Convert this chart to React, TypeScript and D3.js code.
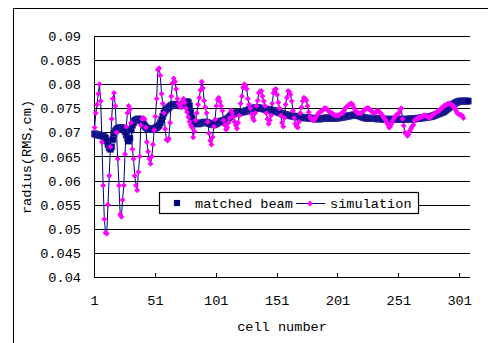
import React, { useEffect, useRef } from 'react';
import * as d3 from 'd3';

// matched beam radius per cell (RMS, cm)
const matchedBeam = [
  0.0697, 0.0696, 0.0695, 0.0695, 0.0694, 0.0694, 0.0693,
  0.0692, 0.069, 0.0688, 0.0682, 0.0675, 0.0668, 0.0665, 0.067, 0.0685,
  0.0698, 0.0703, 0.0706, 0.0708, 0.0709, 0.071, 0.071, 0.0709, 0.0707, 0.0702,
  0.0695, 0.0688, 0.0682, 0.0688,
  0.0705, 0.0715, 0.072, 0.0724, 0.0726, 0.0727, 0.0728, 0.0727, 0.0725, 0.0722, 0.0718,
  0.0714, 0.0711, 0.0709, 0.0708, 0.0707, 0.0706, 0.0706, 0.0707, 0.0708, 0.0709, 0.071, 0.0712, 0.0715,
  0.072, 0.0726, 0.0733, 0.074, 0.0745, 0.0748, 0.075, 0.0752,
  0.0754, 0.0756, 0.0757, 0.0758, 0.0758, 0.0758, 0.0757, 0.0756, 0.0755, 0.0756, 0.0758, 0.076, 0.0762,
  0.0763, 0.0764, 0.0762, 0.0755, 0.0742, 0.073, 0.0722,
  0.072, 0.0719, 0.0718, 0.0718, 0.0718, 0.0719, 0.072, 0.072, 0.0721, 0.0721, 0.0721, 0.072, 0.0719,
  0.0718, 0.0717, 0.0716, 0.0716, 0.0717, 0.0718, 0.072, 0.0721, 0.0722, 0.0723, 0.0724, 0.0724,
  0.0725, 0.0726, 0.0728, 0.073, 0.0732, 0.0735, 0.0737, 0.0739,
  0.074, 0.074, 0.0741, 0.0741, 0.0741, 0.0742, 0.0742, 0.0743, 0.0743, 0.0744, 0.0745, 0.0746,
  0.0747, 0.0748, 0.0749, 0.075, 0.075, 0.0751, 0.0751, 0.0751, 0.0751, 0.075, 0.075, 0.0749, 0.0749,
  0.0748, 0.0748, 0.0748, 0.0747, 0.0747, 0.0746, 0.0746, 0.0745, 0.0745, 0.0744, 0.0743, 0.0742,
  0.0741, 0.074, 0.0739, 0.0738, 0.0737, 0.0737, 0.0736, 0.0736, 0.0735, 0.0735, 0.0734, 0.0734, 0.0733,
  0.0733, 0.0733, 0.0732, 0.0732, 0.0732, 0.0731, 0.0731, 0.0731, 0.073, 0.073, 0.073, 0.073, 0.0729, 0.0729,
  0.0729, 0.0729, 0.0728, 0.0728, 0.0728, 0.0728, 0.0728, 0.0728, 0.0729, 0.0729, 0.0729, 0.073, 0.073,
  0.073, 0.073, 0.0729, 0.0729, 0.0729, 0.0729, 0.0729, 0.073, 0.073, 0.073, 0.0731, 0.0731, 0.0732,
  0.0732, 0.0733, 0.0733, 0.0734, 0.0734, 0.0735, 0.0735,
  0.0736, 0.0736, 0.0736, 0.0736, 0.0735, 0.0735, 0.0734, 0.0733, 0.0732, 0.0731,
  0.073, 0.073, 0.0729, 0.0729, 0.0729, 0.0729, 0.0729, 0.0729, 0.0729, 0.0729, 0.0728, 0.0728, 0.0728,
  0.0728, 0.0728, 0.0728, 0.0727, 0.0727, 0.0727, 0.0727, 0.0727, 0.0727, 0.0727, 0.0727, 0.0727, 0.0727,
  0.0727, 0.0727, 0.0727, 0.0727, 0.0727, 0.0727, 0.0727, 0.0727, 0.0727, 0.0727, 0.0727, 0.0728, 0.0728,
  0.0728, 0.0728, 0.0728, 0.0728, 0.0729, 0.0729, 0.0729, 0.073, 0.073, 0.073, 0.0731, 0.0731, 0.0731,
  0.0732, 0.0732, 0.0733, 0.0733, 0.0734,
  0.0735, 0.0736, 0.0737, 0.0738, 0.0739, 0.074, 0.0741, 0.0742, 0.0743, 0.0745, 0.0747, 0.0749, 0.0751,
  0.0753, 0.0755, 0.0757, 0.0759, 0.076, 0.0762, 0.0763, 0.0764, 0.0765, 0.0765, 0.0765, 0.0765, 0.0765,
  0.0765, 0.0765, 0.0765,
];

// simulated radius per cell
const simulation = [
  0.071, 0.074, 0.0758, 0.078, 0.08, 0.0765, 0.068, 0.059, 0.052, 0.0492,
  0.049, 0.055, 0.061, 0.067, 0.0728, 0.077, 0.0782, 0.0755, 0.07, 0.0645,
  0.059, 0.053, 0.0525, 0.056, 0.059, 0.0655, 0.0712, 0.074, 0.0755, 0.0748,
  0.072, 0.0665, 0.0645, 0.061, 0.059, 0.058, 0.0618, 0.065, 0.0715, 0.0728,
  0.073, 0.0728, 0.071, 0.068, 0.066, 0.0645, 0.0635, 0.065, 0.0675, 0.0705,
  0.0733, 0.077, 0.083, 0.0833, 0.0818, 0.078, 0.076, 0.074, 0.0707, 0.0685,
  0.0683, 0.0687, 0.072, 0.0775, 0.0802, 0.0812, 0.0805, 0.079, 0.077, 0.076,
  0.0755, 0.0752, 0.0762, 0.077, 0.0762, 0.075, 0.0742, 0.0732, 0.0722, 0.0715,
  0.071, 0.069, 0.0702, 0.0725, 0.074, 0.0758, 0.0772, 0.0788, 0.0805, 0.0792,
  0.0766, 0.0752, 0.074, 0.0722, 0.0698, 0.0683, 0.0675, 0.069, 0.0712, 0.0727,
  0.0755, 0.0768, 0.0772, 0.0764, 0.0755, 0.0745, 0.0725, 0.0715, 0.0706, 0.071,
  0.072, 0.073, 0.0745, 0.074, 0.0732, 0.0722, 0.0715, 0.0708, 0.072, 0.0735,
  0.076, 0.0775, 0.0793, 0.08, 0.0797, 0.079, 0.077, 0.0758, 0.075, 0.0738,
  0.073, 0.0725, 0.074, 0.0755, 0.0766, 0.0782, 0.0785, 0.0786, 0.0775, 0.0765,
  0.0755, 0.074, 0.0728, 0.0718, 0.0725, 0.0735, 0.076, 0.0782, 0.0788, 0.079,
  0.0778, 0.0762, 0.075, 0.0735, 0.072, 0.0712, 0.073, 0.0758, 0.0772, 0.0786,
  0.0784, 0.0778, 0.0765, 0.0745, 0.073, 0.0718, 0.0712, 0.071, 0.0722, 0.074,
  0.0752, 0.0765, 0.0772, 0.077, 0.0766, 0.0755, 0.0742, 0.0732, 0.0728, 0.0726,
  0.0725, 0.0728, 0.0732, 0.0736, 0.074, 0.0742, 0.0744, 0.0745, 0.0748, 0.075,
  0.075, 0.0748, 0.0745, 0.0743, 0.0741, 0.074, 0.0738, 0.0736, 0.0735, 0.0735,
  0.0735, 0.0736, 0.0738, 0.074, 0.074, 0.0745, 0.075, 0.0753, 0.0755, 0.0757,
  0.0759, 0.076, 0.0758, 0.0752, 0.0747, 0.0743, 0.074, 0.074, 0.074, 0.074,
  0.0742, 0.0745, 0.0747, 0.0749, 0.075, 0.075, 0.0748, 0.0745, 0.0743, 0.0741,
  0.074, 0.0742, 0.0744, 0.0745, 0.0743, 0.074, 0.0737, 0.0733, 0.073, 0.0726,
  0.0721, 0.0716, 0.071, 0.0712, 0.0718, 0.0724, 0.0729, 0.0733, 0.0736, 0.0738,
  0.074, 0.0747, 0.075, 0.0728, 0.0714, 0.07, 0.0697, 0.0693, 0.0696, 0.0703,
  0.0708, 0.0712, 0.0716, 0.0725, 0.0727, 0.0728, 0.073, 0.0731, 0.0732, 0.0733,
  0.0734, 0.0735, 0.0735, 0.0734, 0.0732, 0.073, 0.0732, 0.0735, 0.0736, 0.0738,
  0.074, 0.0742, 0.0744, 0.0745, 0.0747, 0.075, 0.0752, 0.0755, 0.0756, 0.0757,
  0.0759, 0.076, 0.0759, 0.0757, 0.0756, 0.0755, 0.075, 0.0745, 0.074, 0.0738,
  0.0737, 0.0736, 0.0735, 0.073,
];

const cellCount = 309;
const xTicks = [1, 51, 101, 151, 201, 251, 301];
const yTicks = [0.04, 0.045, 0.05, 0.055, 0.06, 0.065, 0.07, 0.075, 0.08, 0.085, 0.09];
const seriesNames = ['matched beam', 'simulation'];

const FONT = '"Liberation Mono", "DejaVu Sans Mono", monospace';

const App = () => {
  const svgRef = useRef<SVGSVGElement>(null);

  useEffect(() => {
    const svg = d3.select(svgRef.current);
    svg.selectAll('*').remove();

    const plot = { left: 94, right: 470, top: 36, bottom: 277 };

    const x = d3.scaleLinear().domain([0.5, cellCount + 0.5]).range([plot.left, plot.right]);
    const y = d3.scaleLinear().domain([0.04, 0.09]).range([plot.bottom, plot.top]);

    // outer chart frame (runs off the right/bottom edge)
    svg.append('rect')
      .attr('x', 13.5).attr('y', 8.5)
      .attr('width', 500).attr('height', 360)
      .attr('fill', '#fff').attr('stroke', '#000').attr('stroke-width', 1);

    // gridlines
    svg.append('g')
      .selectAll('line')
      .data(yTicks)
      .enter().append('line')
      .attr('x1', plot.left).attr('x2', plot.right)
      .attr('y1', d => Math.round(y(d)) + 0.5).attr('y2', d => Math.round(y(d)) + 0.5)
      .attr('stroke', '#000').attr('stroke-width', 1);

    // y axis line
    svg.append('line')
      .attr('x1', plot.left + 0.5).attr('x2', plot.left + 0.5)
      .attr('y1', plot.top).attr('y2', plot.bottom + 1)
      .attr('stroke', '#000');

    // y tick labels
    svg.append('g')
      .selectAll('text')
      .data(yTicks)
      .enter().append('text')
      .attr('x', 81)
      .attr('y', d => y(d) + 5)
      .attr('text-anchor', 'end')
      .attr('font-family', FONT)
      .attr('font-size', 13.6)
      .attr('fill', '#000')
      .text(d => String(d));

    // x tick marks (at category boundaries, pointing up) and labels
    const xg = svg.append('g');
    xg.selectAll('line')
      .data(xTicks)
      .enter().append('line')
      .attr('x1', d => Math.round(x(d - 0.5)) + 0.5).attr('x2', d => Math.round(x(d - 0.5)) + 0.5)
      .attr('y1', plot.bottom - 4).attr('y2', plot.bottom)
      .attr('stroke', '#000');
    xg.selectAll('text')
      .data(xTicks)
      .enter().append('text')
      .attr('x', d => x(d))
      .attr('y', 305)
      .attr('text-anchor', 'middle')
      .attr('font-family', FONT)
      .attr('font-size', 13.6)
      .attr('fill', '#000')
      .text(d => String(d));

    // axis titles
    svg.append('text')
      .attr('x', 282).attr('y', 331)
      .attr('text-anchor', 'middle')
      .attr('font-family', FONT)
      .attr('font-size', 13.6)
      .text('cell number');

    svg.append('text')
      .attr('transform', 'translate(31,157) rotate(-90)')
      .attr('text-anchor', 'middle')
      .attr('font-family', FONT)
      .attr('font-size', 13.6)
      .text('radius(RMS,cm)');

    const square = d3.symbol().type(d3.symbolSquare).size(38);
    const diamond = d3.symbol().type(d3.symbolDiamond2).size(22);

    // matched beam: squares only
    svg.append('g')
      .selectAll('path')
      .data(matchedBeam)
      .enter().append('path')
      .attr('d', square)
      .attr('transform', (d, i) => `translate(${x(i + 1)},${y(d)})`)
      .attr('fill', '#000080')
      .attr('stroke', '#30309a')
      .attr('stroke-width', 0.6);

    // simulation: navy line with magenta diamonds
    const line = d3.line<number>()
      .x((d, i) => x(i + 1))
      .y(d => y(d));

    svg.append('path')
      .datum(simulation)
      .attr('d', line)
      .attr('fill', 'none')
      .attr('stroke', '#000080')
      .attr('stroke-width', 1);

    svg.append('g')
      .selectAll('path')
      .data(simulation)
      .enter().append('path')
      .attr('d', diamond)
      .attr('transform', (d, i) => `translate(${x(i + 1)},${y(d)})`)
      .attr('fill', '#ff00ff');

    // legend
    const lg = svg.append('g');
    lg.append('rect')
      .attr('x', 159.5).attr('y', 192.5)
      .attr('width', 259).attr('height', 21)
      .attr('fill', '#fff').attr('stroke', '#000').attr('stroke-width', 1.2);
    lg.append('path')
      .attr('d', square)
      .attr('transform', 'translate(177,203)')
      .attr('fill', '#000080');
    lg.append('text')
      .attr('x', 195).attr('y', 208)
      .attr('font-family', FONT).attr('font-size', 13.6)
      .text(seriesNames[0]);
    lg.append('line')
      .attr('x1', 296).attr('x2', 325)
      .attr('y1', 203.5).attr('y2', 203.5)
      .attr('stroke', '#000080').attr('stroke-width', 1);
    lg.append('path')
      .attr('d', diamond)
      .attr('transform', 'translate(310,203.5)')
      .attr('fill', '#ff00ff');
    lg.append('text')
      .attr('x', 330).attr('y', 208)
      .attr('font-family', FONT).attr('font-size', 13.6)
      .text(seriesNames[1]);
  }, []);

  return (
    <svg
      ref={svgRef}
      width={488}
      height={343}
      style={{ position: 'absolute', left: 0, top: 0, background: '#fff' }}
    />
  );
};

export default App;
